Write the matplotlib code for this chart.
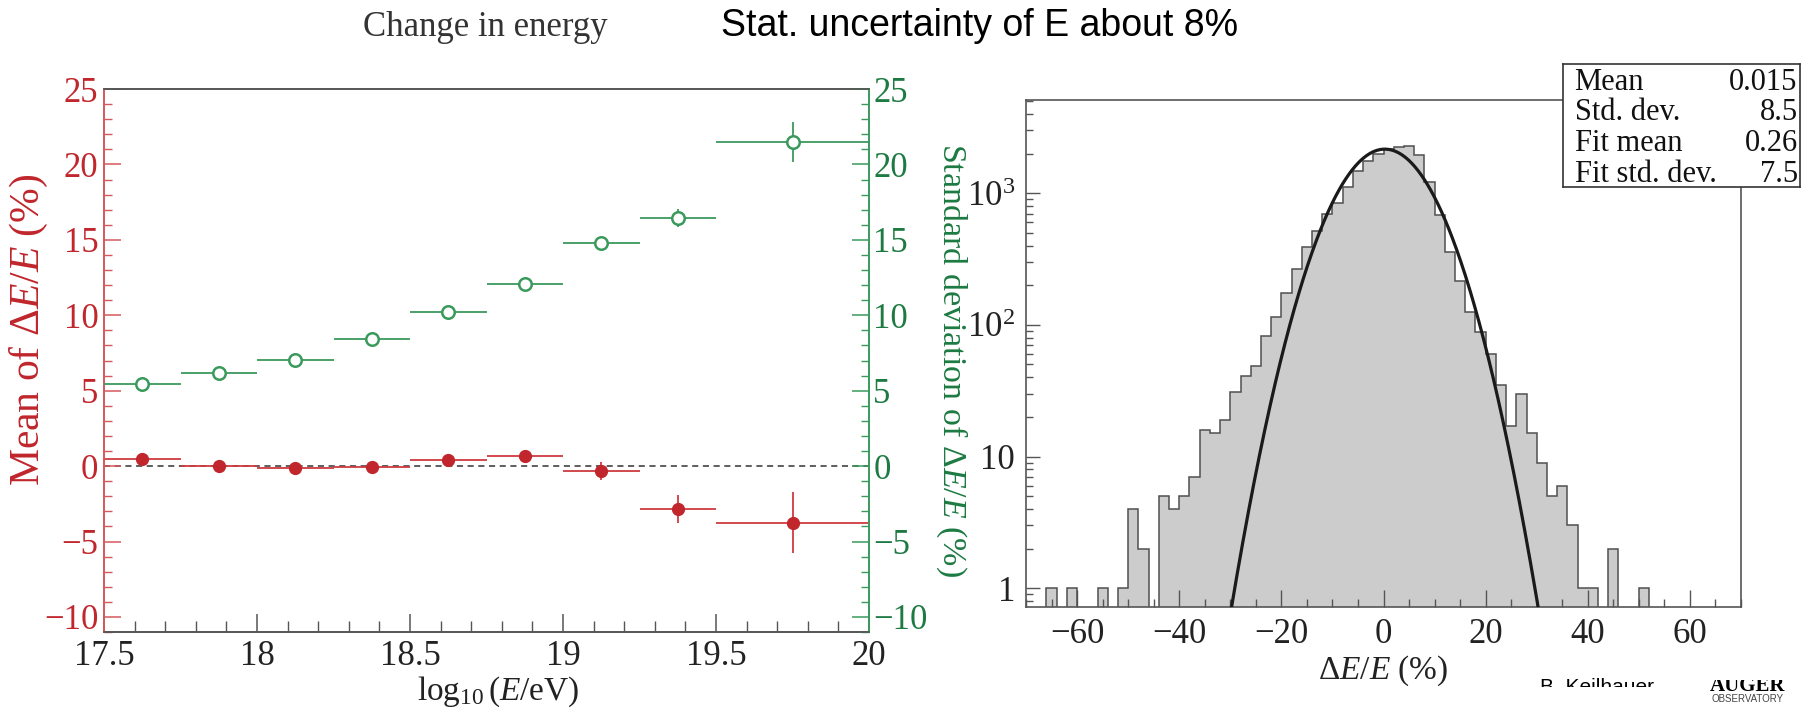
import numpy as np
import matplotlib
matplotlib.use("Agg")
import matplotlib.pyplot as plt
from matplotlib.ticker import MultipleLocator, FixedLocator, FixedFormatter, LogLocator, NullFormatter
from matplotlib.transforms import Bbox, TransformedBbox

plt.rcParams["font.family"] = ["Liberation Serif", "DejaVu Serif"]
plt.rcParams["mathtext.fontset"] = "custom"
plt.rcParams["mathtext.rm"] = "Liberation Serif"
plt.rcParams["mathtext.it"] = "Liberation Serif:italic"
plt.rcParams["mathtext.bf"] = "Liberation Serif:bold"

# ---- energy-binned bias and resolution ----
bin_lo = [17.5, 17.75, 18.0, 18.25, 18.5, 18.75, 19.0, 19.25, 19.5]
bin_hi = [17.75, 18.0, 18.25, 18.5, 18.75, 19.0, 19.25, 19.5, 20.0]
mean_dE = [0.5, 0.0, -0.1, -0.07, 0.4, 0.7, -0.3, -2.85, -3.75]
mean_err = [0.12, 0.12, 0.12, 0.12, 0.15, 0.2, 0.6, 0.9, 2.0]
std_dE = [5.43, 6.17, 7.05, 8.45, 10.24, 12.05, 14.8, 16.42, 21.48]
std_err = [0.1, 0.1, 0.1, 0.12, 0.15, 0.2, 0.35, 0.6, 1.35]
x_ticks = [17.5, 18.0, 18.5, 19.0, 19.5, 20.0]
x_ticklabels = ["17.5", "18", "18.5", "19", "19.5", "20"]
y_ticks = [-10, -5, 0, 5, 10, 15, 20, 25]
y_ticklabels = ["\u221210", "\u22125", "0", "5", "10", "15", "20", "25"]

# ---- distribution of dE/E (2 % bins from -70 to 70) ----
hist_edges = np.arange(-70, 72, 2)
hist_counts = [0, 0, 1, 0, 1, 0, 0, 1, 0, 1,
               4, 2, 0, 5, 4, 5, 7, 16, 15, 19,
               31, 41, 49, 82, 114, 176, 265, 392, 518, 697,
               849, 1122, 1472, 1753, 1968, 2148, 2235, 2300, 1936, 1224,
               681, 359, 217, 126, 88, 60, 35, 17, 30, 15,
               9, 5, 6, 3, 1, 1, 0, 2, 0, 0,
               1, 0, 0, 0, 0, 0, 0, 0, 0, 0]
fit_amp = 2160.0
fit_mean = 0.26
fit_sigma = 7.5
stat_names = ["Mean", "Std. dev.", "Fit mean", "Fit std. dev."]
stat_values = ["0.015", "8.5", "0.26", "7.5"]
hist_xticks = [-60, -40, -20, 0, 20, 40, 60]
hist_xticklabels = ["\u221260", "\u221240", "\u221220", "0", "20", "40", "60"]
hist_yticks = [1, 10, 100, 1000]
hist_yticklabels = ["1", "10", r"$10^{2}$", r"$10^{3}$"]

RED = "#c0262c"
RED_AX = "#d4585c"
GREEN = "#3a9a5c"
GREEN_TXT = "#1d7a42"
GREY = "#555555"
TICKFS = 25

W, H = 1812, 713
fig = plt.figure(figsize=(W / 100, H / 100), dpi=100)
fig.patch.set_facecolor("white")


def fbox(x0, y_top, x1, y_bot):
    return [x0 / W, 1 - y_bot / H, (x1 - x0) / W, (y_bot - y_top) / H]


# ================= left panel =================
ax = fig.add_axes(fbox(104, 89, 869, 632))
ax2 = ax.twinx()
ax.set_xlim(17.5, 20.0)
ax.set_ylim(-11, 25)
ax2.set_ylim(-11, 25)

xc = [(a + b) / 2 for a, b in zip(bin_lo, bin_hi)]
xe = [(b - a) / 2 for a, b in zip(bin_lo, bin_hi)]

ax.axhline(0, color="#333333", lw=1.1, ls=(0, (4, 3)), zorder=1)
ax2.errorbar(xc, std_dE, xerr=xe, yerr=std_err, fmt="o", ms=9,
             mfc="white", mec=GREEN, mew=1.8, ecolor=GREEN, elinewidth=1.3,
             capsize=0, zorder=3)
ax.errorbar(xc, mean_dE, xerr=xe, yerr=mean_err, fmt="o", ms=8.5,
            mfc=RED, mec=RED, ecolor="#cf3b40", elinewidth=1.3,
            capsize=0, zorder=3)

ax.xaxis.set_major_locator(FixedLocator(x_ticks))
ax.xaxis.set_major_formatter(FixedFormatter(x_ticklabels))
ax.xaxis.set_minor_locator(MultipleLocator(0.1))
ax.yaxis.set_major_locator(FixedLocator(y_ticks))
ax.yaxis.set_major_formatter(FixedFormatter(y_ticklabels))
ax.yaxis.set_minor_locator(MultipleLocator(1))
ax2.yaxis.set_major_locator(FixedLocator(y_ticks))
ax2.yaxis.set_major_formatter(FixedFormatter(y_ticklabels))
ax2.yaxis.set_minor_locator(MultipleLocator(1))

ax.tick_params(axis="x", which="both", direction="in", colors=GREY,
               labelcolor="#222222", labelsize=TICKFS, pad=6, top=False)
ax.tick_params(axis="x", which="major", length=13, width=1.1)
ax.tick_params(axis="x", which="minor", length=8, width=1.0)
ax.tick_params(axis="y", which="both", direction="in", color=RED_AX,
               labelcolor=RED, labelsize=TICKFS, pad=4)
ax.tick_params(axis="y", which="major", length=12, width=1.1)
ax.tick_params(axis="y", which="minor", length=6, width=1.0)
ax2.tick_params(axis="y", which="both", direction="in", color=GREEN,
                labelcolor=GREEN_TXT, labelsize=TICKFS, pad=3)
ax2.tick_params(axis="y", which="major", length=12, width=1.1)
ax2.tick_params(axis="y", which="minor", length=6, width=1.0)

for a in (ax, ax2):
    a.spines["top"].set_color(GREY)
    a.spines["bottom"].set_color(GREY)
    a.spines["left"].set_color(RED_AX)
    a.spines["right"].set_color(GREEN)
    for s in a.spines.values():
        s.set_linewidth(1.2)

ax.set_xlabel(r"$\log_{10}(E/\mathrm{eV})$", fontsize=24, color="#222222")
ax.xaxis.set_label_coords(0.515, -0.078)
ax.set_ylabel(r"Mean of $\Delta E/E$ (%)", fontsize=30, color=RED)
ax.yaxis.set_label_coords(-0.07, 0.557)
ax2.set_ylabel(r"Standard deviation of $\Delta E/E$ (%)", fontsize=24.5,
               color=GREEN_TXT, rotation=-90, labelpad=30)

# ================= right panel =================
hx = fig.add_axes(fbox(1026, 100, 1741, 607))
hx.set_yscale("log")
hx.set_xlim(-70, 70)
hx.set_ylim(0.72, 5100)

counts = np.asarray(hist_counts, dtype=float)
draw_counts = np.where(counts > 0, counts, 1e-3)
hx.stairs(draw_counts, hist_edges, baseline=1e-3, fill=True,
          color="#cccccc", zorder=1)
hx.stairs(draw_counts, hist_edges, baseline=1e-3, color="#505050",
          lw=1.1, zorder=2)

xf = np.linspace(-31.0, 31.6, 600)
yf = fit_amp * np.exp(-0.5 * ((xf - fit_mean) / fit_sigma) ** 2)
hx.plot(xf, yf, color="#1a1a1a", lw=2.3, zorder=3)

hx.xaxis.set_major_locator(FixedLocator(hist_xticks))
hx.xaxis.set_major_formatter(FixedFormatter(hist_xticklabels))
hx.xaxis.set_minor_locator(MultipleLocator(5))
hx.yaxis.set_major_locator(FixedLocator(hist_yticks))
hx.yaxis.set_major_formatter(FixedFormatter(hist_yticklabels))
hx.yaxis.set_minor_locator(LogLocator(base=10, subs=np.arange(2, 10), numticks=20))
hx.yaxis.set_minor_formatter(NullFormatter())
hx.tick_params(which="both", direction="in", colors=GREY, labelcolor="#222222",
               labelsize=TICKFS, top=False, right=False)
hx.tick_params(axis="x", which="major", length=12, width=1.0, pad=8)
hx.tick_params(axis="x", which="minor", length=6, width=1.0)
hx.tick_params(axis="y", which="major", length=10, width=1.0, pad=8)
hx.tick_params(axis="y", which="minor", length=5, width=1.0)
for s in hx.spines.values():
    s.set_color(GREY)
    s.set_linewidth(1.2)
hx.set_xlabel(r"$\Delta E/E$ (%)", fontsize=24, color="#222222", labelpad=2)

# statistics box
sb = fig.add_axes(fbox(1562.7, 64.3, 1800, 187))
sb.set_zorder(10)
sb.set_facecolor("white")
sb.set_xticks([])
sb.set_yticks([])
for s in sb.spines.values():
    s.set_color("#333333")
    s.set_linewidth(1.2)
for i, (name, val) in enumerate(zip(stat_names, stat_values)):
    yy = 1 - (i + 0.5) / 4.0 - 0.02
    sb.text(0.05, yy, name, transform=sb.transAxes, fontsize=22,
            va="center", ha="left", color="#111111")
    sb.text(0.99, yy, val, transform=sb.transAxes, fontsize=22,
            va="center", ha="right", color="#111111")

# ================= headings and credits =================
fig.text(485 / W, 1 - 36 / H, "Change in energy", fontsize=25,
         color="#333333", ha="center", va="baseline")
fig.text(980 / W, 1 - 36 / H, "Stat. uncertainty of E about 8%",
         fontsize=27, family=["Liberation Sans", "DejaVu Sans"],
         color="black", ha="center", va="baseline")

name_txt = fig.text(1540 / W, 1 - 678 / H, "B. Keilhauer", fontsize=15,
                    family=["Liberation Sans", "DejaVu Sans"], color="black",
                    ha="left", va="top")
name_txt.set_clip_box(TransformedBbox(Bbox([[0, 1 - 687 / H], [1, 1]]), fig.transFigure))
name_txt.set_clip_on(True)

logo_txt = fig.text(1748 / W, 1 - 691 / H, "AUGER", fontsize=15, weight="bold",
                    color="black", ha="center", va="baseline")
logo_txt.set_clip_box(TransformedBbox(Bbox([[0, 0], [1, 1 - 680 / H]]), fig.transFigure))
logo_txt.set_clip_on(True)
fig.text(1748 / W, 1 - 702 / H, "OBSERVATORY", fontsize=7,
         family=["Liberation Sans", "DejaVu Sans"], color="#444444",
         ha="center", va="baseline")

fig.savefig("out.png", dpi=100, facecolor="white")
